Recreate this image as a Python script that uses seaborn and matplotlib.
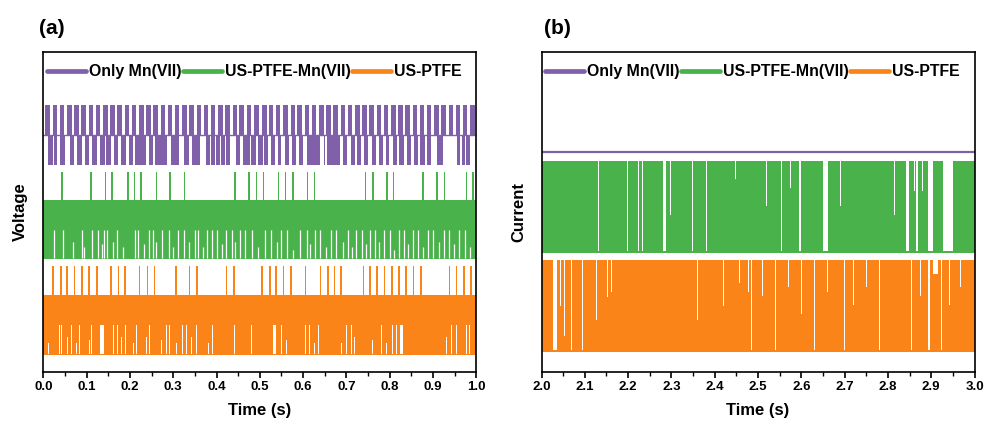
import numpy as np
import pandas as pd
import seaborn as sns
import matplotlib
matplotlib.use("Agg")
import matplotlib.pyplot as plt
from matplotlib.lines import Line2D
from matplotlib.ticker import MultipleLocator

# ---------------- data ----------------
series_names = ["Only Mn(VII)", "US-PTFE-Mn(VII)", "US-PTFE"]
colors = ["#7F60A9", "#4AB24A", "#FA8418"]

# Panel (a) signal levels (arbitrary voltage units)
purple_levels = [6.47, 7.41, 8.34]          # bottom, base, top
green_levels = [3.53, 4.44, 5.375, 6.25]     # bottom, mid, top, spike
orange_levels = [0.53, 1.47, 2.41, 3.31]     # bottom, mid, top, spike

purple_up_start = [0.005, 0.022, 0.038, 0.055, 0.072, 0.088, 0.105, 0.121, 0.138, 0.155,
                   0.171, 0.188, 0.204, 0.221, 0.238, 0.254, 0.271, 0.287, 0.304, 0.321,
                   0.337, 0.354, 0.370, 0.387, 0.404, 0.420, 0.437, 0.453, 0.470, 0.487,
                   0.505, 0.521, 0.537, 0.554, 0.571, 0.587, 0.604, 0.620, 0.637, 0.654,
                   0.670, 0.687, 0.703, 0.720, 0.737, 0.753, 0.770, 0.786, 0.803, 0.820,
                   0.836, 0.853, 0.869, 0.886, 0.903, 0.919, 0.936, 0.952, 0.969, 0.986]
purple_up_width = 0.0105

purple_down_start = [0.011, 0.025, 0.038, 0.061, 0.078, 0.096, 0.113, 0.130, 0.145, 0.163,
                     0.180, 0.197, 0.211, 0.245, 0.257, 0.295, 0.326, 0.343, 0.355, 0.376,
                     0.388, 0.399, 0.411, 0.422, 0.445, 0.461, 0.480, 0.495, 0.510, 0.525,
                     0.541, 0.558, 0.575, 0.591, 0.610, 0.648, 0.656, 0.692, 0.710, 0.725,
                     0.741, 0.758, 0.775, 0.791, 0.808, 0.821, 0.841, 0.856, 0.871, 0.887,
                     0.910, 0.956, 0.968, 0.977]
purple_down_end = [0.020, 0.029, 0.048, 0.069, 0.088, 0.105, 0.122, 0.140, 0.156, 0.172,
                   0.189, 0.205, 0.235, 0.253, 0.284, 0.311, 0.334, 0.353, 0.360, 0.384,
                   0.395, 0.407, 0.419, 0.430, 0.453, 0.476, 0.489, 0.506, 0.518, 0.533,
                   0.548, 0.566, 0.583, 0.598, 0.637, 0.650, 0.683, 0.700, 0.718, 0.733,
                   0.748, 0.766, 0.783, 0.798, 0.815, 0.831, 0.848, 0.864, 0.879, 0.894,
                   0.921, 0.961, 0.973, 0.983]

green_spikes = [0.043, 0.110, 0.143, 0.159, 0.196, 0.211, 0.226, 0.261, 0.293, 0.326,
                0.443, 0.475, 0.492, 0.509, 0.543, 0.559, 0.577, 0.610, 0.626, 0.744,
                0.761, 0.794, 0.809, 0.877, 0.909, 0.926, 0.977, 0.992]
green_gaps = [0.025, 0.046, 0.068, 0.089, 0.094, 0.112, 0.127, 0.135, 0.140, 0.148,
              0.160, 0.171, 0.183, 0.212, 0.219, 0.232, 0.245, 0.254, 0.260, 0.273,
              0.291, 0.300, 0.312, 0.325, 0.337, 0.350, 0.358, 0.369, 0.377, 0.389,
              0.400, 0.412, 0.423, 0.435, 0.442, 0.454, 0.465, 0.481, 0.496, 0.512,
              0.527, 0.539, 0.550, 0.562, 0.577, 0.592, 0.608, 0.617, 0.627, 0.638,
              0.652, 0.665, 0.675, 0.692, 0.704, 0.712, 0.723, 0.735, 0.746, 0.755,
              0.765, 0.775, 0.786, 0.800, 0.809, 0.821, 0.832, 0.842, 0.854, 0.865,
              0.877, 0.888, 0.900, 0.914, 0.925, 0.937, 0.948, 0.960, 0.973, 0.985]
green_gap_depth = [1.0, 1.0, 0.6, 1.0, 0.4, 1.0, 1.0, 0.5, 1.0, 1.0,
                   0.6, 1.0, 0.4, 1.0, 1.0, 0.5, 1.0, 1.0, 0.6, 1.0,
                   1.0, 0.4, 1.0, 1.0, 0.6, 1.0, 1.0, 0.4, 1.0, 1.0,
                   1.0, 0.5, 1.0, 1.0, 0.6, 1.0, 1.0, 1.0, 0.4, 1.0,
                   1.0, 0.6, 1.0, 1.0, 0.3, 1.0, 1.0, 0.5, 1.0, 1.0,
                   0.4, 1.0, 1.0, 0.6, 1.0, 0.4, 1.0, 1.0, 0.5, 1.0,
                   1.0, 0.6, 1.0, 1.0, 0.3, 1.0, 1.0, 0.5, 1.0, 1.0,
                   0.4, 1.0, 1.0, 0.6, 1.0, 1.0, 0.5, 1.0, 1.0, 0.4]

orange_spikes = [0.022, 0.041, 0.055, 0.072, 0.089, 0.106, 0.124, 0.156, 0.174, 0.189,
                 0.222, 0.241, 0.257, 0.306, 0.338, 0.355, 0.423, 0.440, 0.505, 0.523,
                 0.538, 0.555, 0.572, 0.605, 0.640, 0.657, 0.672, 0.688, 0.740, 0.755,
                 0.771, 0.788, 0.805, 0.821, 0.838, 0.855, 0.872, 0.938, 0.954, 0.971,
                 0.988]
orange_gaps = [0.006, 0.012, 0.027, 0.037, 0.042, 0.056, 0.065, 0.077, 0.083, 0.096,
               0.106, 0.112, 0.115, 0.122, 0.1355, 0.145, 0.154, 0.162, 0.171, 0.181,
               0.190, 0.198, 0.208, 0.215, 0.223, 0.239, 0.246, 0.260, 0.273, 0.285,
               0.291, 0.308, 0.322, 0.331, 0.342, 0.354, 0.369, 0.381, 0.391, 0.401,
               0.415, 0.431, 0.442, 0.454, 0.468, 0.481, 0.491, 0.512, 0.534, 0.550,
               0.562, 0.577, 0.588, 0.595, 0.606, 0.615, 0.627, 0.635, 0.646, 0.655,
               0.671, 0.681, 0.688, 0.700, 0.712, 0.719, 0.738, 0.752, 0.761, 0.771,
               0.781, 0.792, 0.806, 0.815, 0.827, 0.842, 0.854, 0.865, 0.875, 0.886,
               0.900, 0.914, 0.931, 0.942, 0.954, 0.965, 0.977, 0.985]
orange_gap_width = [0.0015] * 14 + [0.008] + [0.0015] * 33 + [0.009] + [0.0015] * 25 + [0.007] + [0.0015] * 13
orange_gap_depth = [1.0, 0.4, 0.4, 1.0, 1.0, 0.6, 1.0, 0.4, 1.0, 1.0,
                    0.5, 1.0, 1.0, 0.6, 1.0, 1.0, 0.4, 1.0, 1.0, 0.6,
                    1.0, 1.0, 0.4, 1.0, 1.0, 0.6, 1.0, 1.0, 0.5, 1.0,
                    1.0, 0.4, 1.0, 1.0, 0.6, 1.0, 1.0, 0.4, 1.0, 1.0,
                    0.5, 1.0, 1.0, 0.6, 1.0, 1.0, 0.4, 1.0, 1.0, 1.0,
                    0.5, 1.0, 1.0, 0.6, 1.0, 1.0, 0.4, 1.0, 1.0, 0.6,
                    1.0, 1.0, 0.4, 1.0, 1.0, 0.6, 1.0, 1.0, 0.5, 1.0,
                    1.0, 0.4, 1.0, 1.0, 1.0, 1.0, 0.6, 1.0, 1.0, 0.4,
                    1.0, 1.0, 0.6, 1.0, 1.0, 0.5, 1.0, 1.0]

# Panel (b) current levels (arbitrary units)
purple_current = 6.875
green_band_b = [3.72, 6.59]     # bottom, top
orange_band_b = [0.625, 3.50]   # bottom, top

green_b_gaps = [2.098, 2.131, 2.198, 2.224, 2.233, 2.285, 2.298, 2.348, 2.357, 2.364,
                2.381, 2.448, 2.520, 2.555, 2.575, 2.597, 2.655, 2.690, 2.710, 2.745,
                2.770, 2.800, 2.815, 2.830, 2.8455, 2.861, 2.867, 2.880, 2.8985, 2.9385,
                2.985]
green_b_gap_width = [0.0015, 0.0015, 0.0015, 0.0015, 0.0015, 0.007, 0.0015, 0.0015, 0.0015, 0.0015,
                     0.0015, 0.0015, 0.0015, 0.0015, 0.0015, 0.006, 0.012, 0.0015, 0.0015, 0.0015,
                     0.0015, 0.0015, 0.0015, 0.0015, 0.007, 0.0015, 0.003, 0.0015, 0.011, 0.023,
                     0.0015]
green_b_gap_depth = [0.39, 1.0, 1.0, 1.0, 1.0, 1.0, 0.6, 1.0, 0.6, 1.0,
                     1.0, 0.2, 0.5, 1.0, 0.3, 1.0, 1.0, 0.5, 1.0, 0.4,
                     1.0, 1.0, 0.6, 1.0, 1.0, 0.33, 1.0, 0.33, 1.0, 1.0,
                     0.25]

orange_b_gaps = [2.010, 2.031, 2.044, 2.053, 2.070, 2.094, 2.112, 2.127, 2.152, 2.161,
                 2.177, 2.278, 2.360, 2.410, 2.420, 2.458, 2.478, 2.485, 2.510, 2.540,
                 2.570, 2.600, 2.630, 2.660, 2.700, 2.720, 2.750, 2.780, 2.800, 2.830,
                 2.855, 2.876, 2.895, 2.910, 2.924, 2.932, 2.943, 2.955, 2.967, 2.978,
                 2.985]
orange_b_gap_width = [0.0015, 0.010, 0.0015, 0.0015, 0.0015, 0.0015, 0.0015, 0.0015, 0.0015, 0.0015,
                      0.0015, 0.0015, 0.0015, 0.0015, 0.0015, 0.0015, 0.0015, 0.0015, 0.0015, 0.0015,
                      0.0015, 0.0015, 0.0015, 0.0015, 0.0015, 0.0015, 0.0015, 0.0015, 0.0015, 0.0015,
                      0.0015, 0.0015, 0.003, 0.012, 0.0015, 0.0015, 0.0015, 0.0015, 0.0015, 0.0015,
                      0.0015]
orange_b_gap_depth = [1.0, 1.0, 0.51, 0.84, 1.0, 1.0, 0.67, 0.67, 0.41, 0.35,
                      0.41, 1.0, 0.67, 0.35, 0.51, 0.25, 0.35, 1.0, 0.4, 1.0,
                      0.3, 0.6, 1.0, 0.35, 1.0, 0.5, 0.3, 1.0, 0.5, 0.4,
                      1.0, 0.4, 1.0, 0.15, 1.0, 0.62, 0.5, 0.4, 0.3, 0.5,
                      0.4]

xticks_a = [0.0, 0.1, 0.2, 0.3, 0.4, 0.5, 0.6, 0.7, 0.8, 0.9, 1.0]
xticks_b = [2.0, 2.1, 2.2, 2.3, 2.4, 2.5, 2.6, 2.7, 2.8, 2.9, 3.0]

# ---------------- style ----------------
sns.set_theme(style="white")
plt.rcParams["font.family"] = ["Liberation Sans", "DejaVu Sans"]
plt.rcParams["font.weight"] = "bold"
plt.rcParams["text.color"] = "black"
plt.rcParams["axes.labelcolor"] = "black"
plt.rcParams["xtick.color"] = "black"
plt.rcParams["ytick.color"] = "black"

fig = plt.figure(figsize=(9.84, 4.23), dpi=100)
ax_a = fig.add_axes([43.3 / 984, 1 - 372 / 423, 433 / 984, 320 / 423])
ax_b = fig.add_axes([541.5 / 984, 1 - 372 / 423, 433 / 984, 320 / 423])

purple, green, orange = colors


def finish_axes(ax, xlim, ticks, ylabel):
    ax.set_xlim(*xlim)
    ax.set_ylim(0, 10)
    ax.set_xticks(ticks)
    ax.set_xticklabels([f"{t:.1f}" for t in ticks], fontsize=9.5, fontweight="bold",
                       color="black")
    ax.xaxis.set_minor_locator(MultipleLocator(0.05))
    ax.set_yticks([])
    ax.tick_params(axis="x", which="major", direction="out", length=4, width=1.2,
                   bottom=True, color="black", pad=2.5)
    ax.tick_params(axis="x", which="minor", direction="out", length=3, width=1.0,
                   bottom=True, color="black")
    for s in ax.spines.values():
        s.set_visible(True)
        s.set_color("black")
        s.set_linewidth(1.2)
    ax.set_xlabel("Time (s)", fontsize=12, fontweight="bold", labelpad=7, color="black")
    ax.set_ylabel(ylabel, fontsize=12, fontweight="bold", labelpad=11, color="black")
    handles = [Line2D([0], [0], color=c, lw=3.4, solid_capstyle="round") for c in colors]
    leg = ax.legend(handles, series_names, ncol=3, loc="upper left",
                    bbox_to_anchor=(0.008, 0.962), frameon=False,
                    handlelength=2.45, handletextpad=0.2, columnspacing=0.1,
                    borderaxespad=0, borderpad=0,
                    prop={"weight": "bold", "size": 11.4})
    for t in leg.get_texts():
        t.set_color("black")


# ---------------- panel (a) ----------------
ax = ax_a
pb, pm, pt = purple_levels
sns.lineplot(x=[0.0, 1.0], y=[pm, pm], color=purple, lw=1.0, ax=ax, legend=False)
ax.bar(purple_up_start, pt - pm, width=purple_up_width, bottom=pm, align="edge",
       color=purple, lw=0, edgecolor="none")
down_w = [e - s + 0.0015 for s, e in zip(purple_down_start, purple_down_end)]
ax.bar(purple_down_start, pm - pb, width=down_w, bottom=pb, align="edge",
       color=purple, lw=0, edgecolor="none")

gb, gm, gt, gs = green_levels
ax.fill_between([0.0, 1.0], [gb, gb], [gt, gt], color=green, lw=0)
ax.bar(green_spikes, gs - gt, width=0.0032, bottom=gt, color=green, lw=0)
g_top = [gb + d * (gm - gb) for d in green_gap_depth]
ax.vlines(green_gaps, gb + 0.03, g_top, color="white", lw=0.9)

ob, om, ot, os_ = orange_levels
ax.fill_between([0.0, 1.0], [ob, ob], [ot, ot], color=orange, lw=0)
ax.bar(orange_spikes, os_ - ot, width=0.0035, bottom=ot, color=orange, lw=0)
o_top = [ob + d * (om - ob) for d in orange_gap_depth]
ax.bar(orange_gaps, [t - ob - 0.03 for t in o_top], width=orange_gap_width,
       bottom=ob + 0.03, color="white", lw=0)
finish_axes(ax, (0.0, 1.0), xticks_a, "Voltage")

# ---------------- panel (b) ----------------
ax = ax_b
sns.lineplot(x=[2.0, 3.0], y=[purple_current, purple_current], color=purple, lw=1.6,
             ax=ax, legend=False)
gbb, gtb = green_band_b
ax.fill_between([2.0, 3.0], [gbb, gbb], [gtb, gtb], color=green, lw=0)
gh = [d * (gtb - gbb - 0.06) for d in green_b_gap_depth]
ax.bar(green_b_gaps, gh, width=green_b_gap_width, bottom=[gtb - h for h in gh],
       color="white", lw=0)
obb, otb = orange_band_b
ax.fill_between([2.0, 3.0], [obb, obb], [otb, otb], color=orange, lw=0)
oh = [d * (otb - obb - 0.06) for d in orange_b_gap_depth]
ax.bar(orange_b_gaps, oh, width=orange_b_gap_width, bottom=[otb - h for h in oh],
       color="white", lw=0)
finish_axes(ax, (2.0, 3.0), xticks_b, "Current")

fig.text(39 / 984, 1 - 28 / 423, "(a)", fontsize=15, fontweight="bold", va="center", ha="left")
fig.text(544 / 984, 1 - 28 / 423, "(b)", fontsize=15, fontweight="bold", va="center", ha="left")

fig.savefig("out.png", dpi=100)
